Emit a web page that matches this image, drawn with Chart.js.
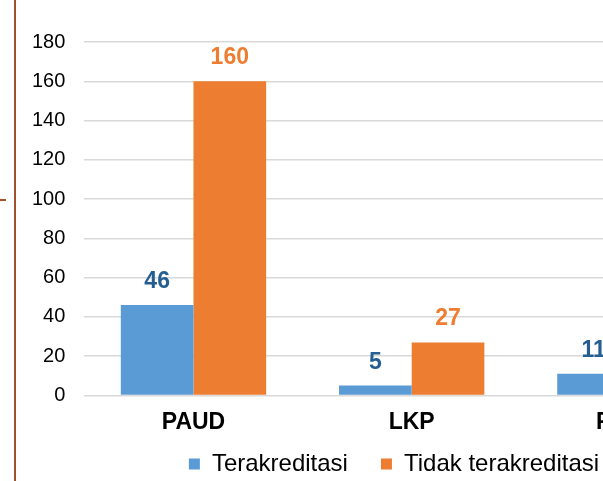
<!DOCTYPE html>
<html>
<head>
<meta charset="utf-8">
<script src="https://cdn.jsdelivr.net/npm/chart.js@4"></script>
<style>
  html, body { margin: 0; padding: 0; background: #fff; }
  #wrap { position: relative; width: 603px; height: 481px; overflow: hidden; }
  #c { position: absolute; left: 0; top: 0; }
  .vline { position: absolute; left: 14px; top: 0; width: 2px; height: 481px; background: #A0522D; }
  .tick { position: absolute; left: 0; top: 199px; width: 6px; height: 2px; background: #A0522D; }
</style>
</head>
<body>
<div id="wrap">
  <canvas id="c" width="800" height="481"></canvas>
  <div class="vline"></div>
  <div class="tick"></div>
</div>
<script>
const categories = ['PAUD', 'LKP', 'PKBM'];
const terakreditasi = [46, 5, 11];
const tidakTerakreditasi = [160, 27, null];
const seriesNames = ['Terakreditasi', 'Tidak terakreditasi'];
const yTicks = [0, 20, 40, 60, 80, 100, 120, 140, 160, 180];

const FONT = "'Liberation Sans', Arial, sans-serif";

const valueLabels = {
  id: 'valueLabels',
  afterDatasetsDraw(chart) {
    const ctx = chart.ctx;
    ctx.save();
    ctx.font = 'bold 23px ' + FONT;
    ctx.textAlign = 'center';
    ctx.textBaseline = 'alphabetic';
    chart.data.datasets.forEach((ds, di) => {
      const meta = chart.getDatasetMeta(di);
      meta.data.forEach((bar, i) => {
        const v = ds.data[i];
        if (v === null || v === undefined) return;
        ctx.fillStyle = ds.labelColor;
        ctx.fillText(String(v), bar.x, bar.y - 17);
      });
    });
    ctx.restore();
  }
};

const legendShift = {
  id: 'legendShift',
  afterLayout(chart) {
    const lg = chart.legend;
    if (!lg) return;
    lg.top = 419;
    lg.bottom = 481;
    lg.height = 62;
    lg.left += 18;
    lg.right += 18;
  }
};

new Chart(document.getElementById('c'), {
  type: 'bar',
  data: {
    labels: categories,
    datasets: [
      { label: seriesNames[0], data: terakreditasi, backgroundColor: '#5B9BD5', labelColor: '#255E91',
        categoryPercentage: 0.666, barPercentage: 1.0 },
      { label: seriesNames[1], data: tidakTerakreditasi, backgroundColor: '#ED7D31', labelColor: '#ED7D31',
        categoryPercentage: 0.666, barPercentage: 1.0 }
    ]
  },
  options: {
    responsive: false,
    animation: false,
    layout: { padding: { top: 42, left: 13, right: 61, bottom: 0 } },
    plugins: {
      tooltip: { enabled: false },
      legend: {
        position: 'bottom',
        maxHeight: 32,
        labels: {
          boxWidth: 11, boxHeight: 11, padding: 33,
          color: '#000',
          font: { family: FONT, size: 24 }
        }
      }
    },
    scales: {
      x: {
        grid: { display: false, drawTicks: false },
        border: { display: false },
        ticks: { color: '#000', padding: 13, font: { family: FONT, size: 23, weight: 'bold' } }
      },
      y: {
        min: 0, max: 180,
        afterBuildTicks(axis) { axis.ticks = yTicks.map(v => ({ value: v })); },
        grid: { color: '#d9d9d9', lineWidth: 1.5, drawTicks: false },
        border: { display: false },
        ticks: { color: '#000', padding: 19, font: { family: FONT, size: 20 } }
      }
    }
  },
  plugins: [valueLabels, legendShift]
});
</script>
</body>
</html>
